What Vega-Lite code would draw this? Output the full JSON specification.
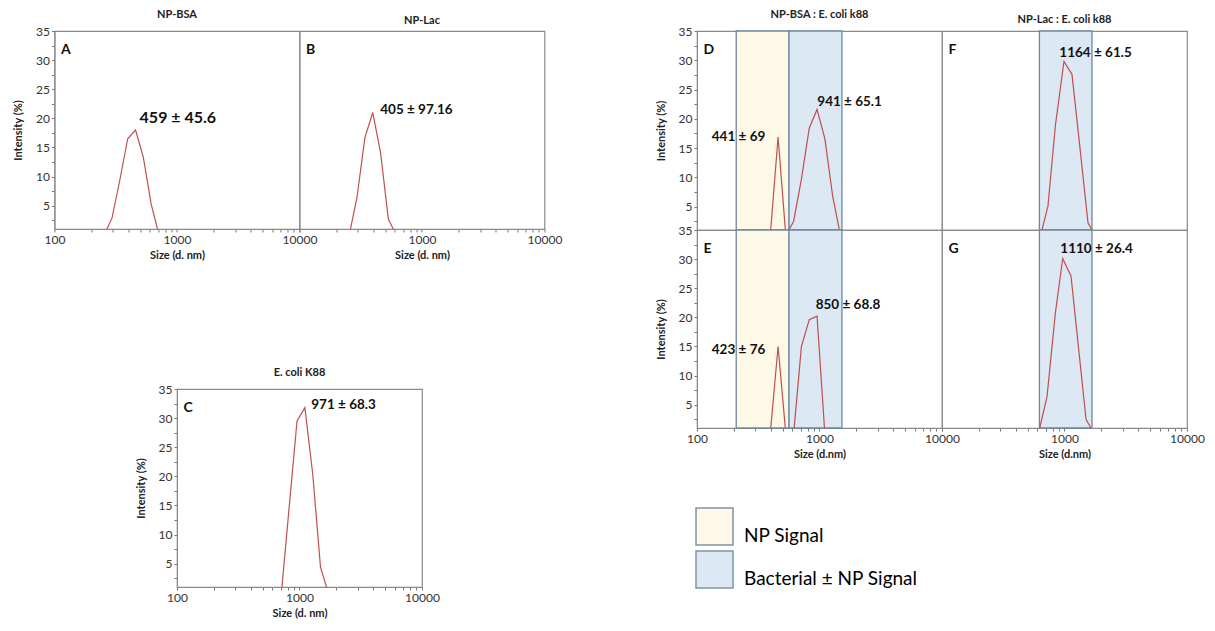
{
"$schema": "https://vega.github.io/schema/vega-lite/v6.json",
"background": "white",
"padding": {"left": 11, "top": 8, "right": 0, "bottom": 0},
"spacing": 91,
"config": {
  "font": "Lato",
  "view": {"stroke": "#8a8a8a", "strokeWidth": 1.2},
  "axis": {"labelFont": "Lato", "labelFontSize": 12, "labelColor": "#333", "titleFont": "Lato", "titleFontSize": 11, "titleFontWeight": "bold", "titleColor": "#222", "domainColor": "#888", "tickColor": "#777", "tickSize": 3, "grid": false, "labelFlush": false, "labelOverlap": false, "labelPadding": 2},
  "title": {"font": "Lato", "fontSize": 11, "fontWeight": "bold", "color": "#222", "offset": 5}
},
"datasets": {
  "curves": [
    {"panel": "A", "size": 255, "intensity": 0}, {"panel": "A", "size": 295, "intensity": 2.9}, {"panel": "A", "size": 342, "intensity": 9.5}, {"panel": "A", "size": 396, "intensity": 16.5}, {"panel": "A", "size": 459, "intensity": 18.0}, {"panel": "A", "size": 531, "intensity": 13.3}, {"panel": "A", "size": 615, "intensity": 5.3}, {"panel": "A", "size": 712, "intensity": 0},
    {"panel": "B", "size": 255, "intensity": 0}, {"panel": "B", "size": 295, "intensity": 6.5}, {"panel": "B", "size": 342, "intensity": 16.7}, {"panel": "B", "size": 396, "intensity": 21.0}, {"panel": "B", "size": 459, "intensity": 14.1}, {"panel": "B", "size": 531, "intensity": 2.7}, {"panel": "B", "size": 615, "intensity": 0},
    {"panel": "C", "size": 712, "intensity": 0}, {"panel": "C", "size": 825, "intensity": 14.9}, {"panel": "C", "size": 955, "intensity": 29.5}, {"panel": "C", "size": 1106, "intensity": 31.8}, {"panel": "C", "size": 1281, "intensity": 20.5}, {"panel": "C", "size": 1484, "intensity": 4.4}, {"panel": "C", "size": 1718, "intensity": 0},
    {"panel": "D", "size": 396, "intensity": 0}, {"panel": "D", "size": 459, "intensity": 16.9}, {"panel": "D", "size": 531, "intensity": 0}, {"panel": "D", "size": 615, "intensity": 2.5}, {"panel": "D", "size": 712, "intensity": 9.7}, {"panel": "D", "size": 825, "intensity": 18.4}, {"panel": "D", "size": 955, "intensity": 21.6}, {"panel": "D", "size": 1106, "intensity": 16.6}, {"panel": "D", "size": 1281, "intensity": 6.8}, {"panel": "D", "size": 1484, "intensity": 0},
    {"panel": "E", "size": 396, "intensity": 0}, {"panel": "E", "size": 459, "intensity": 15.0}, {"panel": "E", "size": 531, "intensity": 0}, {"panel": "E", "size": 615, "intensity": 0}, {"panel": "E", "size": 712, "intensity": 15.0}, {"panel": "E", "size": 825, "intensity": 19.6}, {"panel": "E", "size": 955, "intensity": 20.2}, {"panel": "E", "size": 1106, "intensity": 0},
    {"panel": "F", "size": 655, "intensity": 1}, {"panel": "F", "size": 733, "intensity": 5.1}, {"panel": "F", "size": 843, "intensity": 18.9}, {"panel": "F", "size": 990, "intensity": 29.8}, {"panel": "F", "size": 1151, "intensity": 27.6}, {"panel": "F", "size": 1349, "intensity": 14.3}, {"panel": "F", "size": 1556, "intensity": 2.2}, {"panel": "F", "size": 1676, "intensity": 1},
    {"panel": "G", "size": 628, "intensity": 1}, {"panel": "G", "size": 720, "intensity": 6.4}, {"panel": "G", "size": 843, "intensity": 20.8}, {"panel": "G", "size": 967, "intensity": 30.1}, {"panel": "G", "size": 1130, "intensity": 27.1}, {"panel": "G", "size": 1306, "intensity": 14.5}, {"panel": "G", "size": 1499, "intensity": 2.5}, {"panel": "G", "size": 1645, "intensity": 1}
  ],
  "bands": [
    {"panel": "D", "lo": 209, "hi": 564, "signal": "NP Signal"},
    {"panel": "D", "lo": 564, "hi": 1525, "signal": "Bacterial ± NP Signal"},
    {"panel": "E", "lo": 209, "hi": 564, "signal": "NP Signal"},
    {"panel": "E", "lo": 564, "hi": 1525, "signal": "Bacterial ± NP Signal"},
    {"panel": "F", "lo": 624, "hi": 1676, "signal": "Bacterial ± NP Signal"},
    {"panel": "G", "lo": 624, "hi": 1676, "signal": "Bacterial ± NP Signal"}
  ],
  "labels": [
    {"panel": "A", "size": 495, "intensity": 20.0, "text": "459 ± 45.6"},
    {"panel": "B", "size": 456, "intensity": 21.5, "text": "405 ± 97.16"},
    {"panel": "C", "size": 1248, "intensity": 32.3, "text": "971 ± 68.3"},
    {"panel": "D", "size": 132, "intensity": 16.9, "text": "441 ± 69"},
    {"panel": "D", "size": 960, "intensity": 22.9, "text": "941 ± 65.1"},
    {"panel": "E", "size": 132, "intensity": 14.4, "text": "423 ± 76"},
    {"panel": "E", "size": 931, "intensity": 22.2, "text": "850 ± 68.8"},
    {"panel": "F", "size": 908, "intensity": 31.3, "text": "1164 ± 61.5"},
    {"panel": "G", "size": 925, "intensity": 31.7, "text": "1110 ± 26.4"}
  ],
  "letters": [
    {"panel": "A", "size": 113, "intensity": 31.7, "text": "A"},
    {"panel": "B", "size": 113, "intensity": 31.7, "text": "B"},
    {"panel": "C", "size": 113, "intensity": 31.7, "text": "C"},
    {"panel": "D", "size": 113, "intensity": 31.7, "text": "D"},
    {"panel": "E", "size": 113, "intensity": 31.7, "text": "E"},
    {"panel": "F", "size": 113, "intensity": 31.7, "text": "F"},
    {"panel": "G", "size": 113, "intensity": 31.7, "text": "G"}
  ]
},
"hconcat": [
 {
  "center": true,
  "spacing": 105,
  "vconcat": [
   {
    "spacing": 0,
    "bounds": "flush",
    "hconcat": [
      {
        "width": 245, "height": 198,
        "title": "NP-BSA",
        "layer": [
          {"data": {"name": "curves"}, "transform": [{"filter": "datum.panel === 'A'"}],
           "mark": {"type": "line", "color": "#C0504D", "strokeWidth": 1.2, "clip": true},
           "encoding": {
             "x": {"field": "size", "type": "quantitative", "scale": {"type": "log", "domain": [100, 10000], "nice": false},
                   "axis": {"title": "Size (d. nm)", "titlePadding": 4, "tickCount": 100, "values": [100,200,300,400,500,600,700,800,900,1000,2000,3000,4000,5000,6000,7000,8000,9000,10000], "labelExpr": "indexof([100,1000,10000], datum.value) >= 0 ? format(datum.value, 'd') : ''"}},
             "y": {"field": "intensity", "type": "quantitative", "scale": {"domain": [1, 35], "nice": false, "zero": false},
                   "axis": {"title": "Intensity (%)", "titlePadding": 12, "tickCount": 100, "values": [2.5,5,7.5,10,12.5,15,17.5,20,22.5,25,27.5,30,32.5,35], "labelExpr": "datum.value % 5 === 0 ? format(datum.value, 'd') : ''"}}
           }},
          {"data": {"name": "labels"}, "transform": [{"filter": "datum.panel === 'A'"}],
           "mark": {"type": "text", "align": "left", "baseline": "middle", "fontWeight": "bold", "fontSize": 16, "color": "#111"},
           "encoding": {"x": {"field": "size", "type": "quantitative"}, "y": {"field": "intensity", "type": "quantitative"}, "text": {"field": "text"}}},
          {"data": {"name": "letters"}, "transform": [{"filter": "datum.panel === 'A'"}],
           "mark": {"type": "text", "align": "left", "baseline": "middle", "fontWeight": "bold", "fontSize": 14, "color": "#111"},
           "encoding": {"x": {"field": "size", "type": "quantitative"}, "y": {"field": "intensity", "type": "quantitative"}, "text": {"field": "text"}}}
        ]
      },
      {
        "width": 245, "height": 198,
        "title": "NP-Lac",
        "layer": [
          {"data": {"name": "curves"}, "transform": [{"filter": "datum.panel === 'B'"}],
           "mark": {"type": "line", "color": "#C0504D", "strokeWidth": 1.2, "clip": true},
           "encoding": {
             "x": {"field": "size", "type": "quantitative", "scale": {"type": "log", "domain": [100, 10000], "nice": false},
                   "axis": {"title": "Size (d. nm)", "titlePadding": 4, "tickCount": 100, "values": [100,200,300,400,500,600,700,800,900,1000,2000,3000,4000,5000,6000,7000,8000,9000,10000], "labelExpr": "indexof([1000,10000], datum.value) >= 0 ? format(datum.value, 'd') : ''"}},
             "y": {"field": "intensity", "type": "quantitative", "scale": {"domain": [1, 35], "nice": false, "zero": false}, "axis": null}
           }},
          {"data": {"name": "labels"}, "transform": [{"filter": "datum.panel === 'B'"}],
           "mark": {"type": "text", "align": "left", "baseline": "middle", "fontWeight": "bold", "fontSize": 13.5, "color": "#111"},
           "encoding": {"x": {"field": "size", "type": "quantitative"}, "y": {"field": "intensity", "type": "quantitative", "axis": null}, "text": {"field": "text"}}},
          {"data": {"name": "letters"}, "transform": [{"filter": "datum.panel === 'B'"}],
           "mark": {"type": "text", "align": "left", "baseline": "middle", "fontWeight": "bold", "fontSize": 14, "color": "#111"},
           "encoding": {"x": {"field": "size", "type": "quantitative"}, "y": {"field": "intensity", "type": "quantitative", "axis": null}, "text": {"field": "text"}}}
        ]
      }
    ]
   },
   {
    "width": 245, "height": 198,
    "title": "E. coli K88",
    "layer": [
      {"data": {"name": "curves"}, "transform": [{"filter": "datum.panel === 'C'"}],
       "mark": {"type": "line", "color": "#C0504D", "strokeWidth": 1.2, "clip": true},
       "encoding": {
         "x": {"field": "size", "type": "quantitative", "scale": {"type": "log", "domain": [100, 10000], "nice": false},
               "axis": {"title": "Size (d. nm)", "titlePadding": 4, "tickCount": 100, "values": [100,200,300,400,500,600,700,800,900,1000,2000,3000,4000,5000,6000,7000,8000,9000,10000], "labelExpr": "indexof([100,1000,10000], datum.value) >= 0 ? format(datum.value, 'd') : ''"}},
         "y": {"field": "intensity", "type": "quantitative", "scale": {"domain": [1, 35], "nice": false, "zero": false},
               "axis": {"title": "Intensity (%)", "titlePadding": 12, "tickCount": 100, "values": [2.5,5,7.5,10,12.5,15,17.5,20,22.5,25,27.5,30,32.5,35], "labelExpr": "datum.value % 5 === 0 ? format(datum.value, 'd') : ''"}}
       }},
      {"data": {"name": "labels"}, "transform": [{"filter": "datum.panel === 'C'"}],
       "mark": {"type": "text", "align": "left", "baseline": "middle", "fontWeight": "bold", "fontSize": 13.5, "color": "#111"},
       "encoding": {"x": {"field": "size", "type": "quantitative"}, "y": {"field": "intensity", "type": "quantitative"}, "text": {"field": "text"}}},
      {"data": {"name": "letters"}, "transform": [{"filter": "datum.panel === 'C'"}],
       "mark": {"type": "text", "align": "left", "baseline": "middle", "fontWeight": "bold", "fontSize": 14, "color": "#111"},
       "encoding": {"x": {"field": "size", "type": "quantitative"}, "y": {"field": "intensity", "type": "quantitative"}, "text": {"field": "text"}}}
    ]
   }
  ]
 },
 {
  "spacing": 199,
  "bounds": "flush",
  "vconcat": [
   {
    "spacing": 0,
    "bounds": "flush",
    "hconcat": [
      {
        "width": 245, "height": 199,
        "title": "NP-BSA : E. coli k88",
        "layer": [
          {"data": {"name": "bands"}, "transform": [{"filter": "datum.panel === 'D'"}],
           "mark": {"type": "rect", "stroke": "#6F87A0", "strokeWidth": 1.3},
           "encoding": {
             "x": {"field": "lo", "type": "quantitative", "scale": {"type": "log", "domain": [100, 10000], "nice": false}, "axis": null},
             "x2": {"field": "hi"},
             "y": {"datum": 35, "type": "quantitative"},
             "y2": {"datum": 1},
             "color": {"field": "signal", "type": "nominal", "scale": {"domain": ["NP Signal", "Bacterial ± NP Signal"], "range": ["#FEF8E7", "#DCE8F4"]},
                       "legend": {"orient": "none", "legendX": 641, "legendY": 476, "title": null, "padding": 0, "symbolType": "square", "symbolSize": 1369, "symbolStrokeColor": "#7F93A8", "symbolStrokeWidth": 1.5, "symbolOpacity": 1, "labelFont": "Lato", "labelFontSize": 19, "labelColor": "#000", "labelOffset": 10, "labelBaseline": "top", "rowPadding": 0, "labelLimit": 400}}
           }},
          {"data": {"name": "curves"}, "transform": [{"filter": "datum.panel === 'D'"}],
           "mark": {"type": "line", "color": "#C0504D", "strokeWidth": 1.2, "clip": true},
           "encoding": {
             "x": {"field": "size", "type": "quantitative", "scale": {"type": "log", "domain": [100, 10000], "nice": false}, "axis": null},
             "y": {"field": "intensity", "type": "quantitative", "scale": {"domain": [1, 35], "nice": false, "zero": false},
                   "axis": {"title": "Intensity (%)", "titlePadding": 12, "tickCount": 100, "values": [2.5,5,7.5,10,12.5,15,17.5,20,22.5,25,27.5,30,32.5,35], "labelExpr": "datum.value % 5 === 0 ? format(datum.value, 'd') : ''"}}
           }},
          {"data": {"name": "labels"}, "transform": [{"filter": "datum.panel === 'D'"}],
           "mark": {"type": "text", "align": "left", "baseline": "middle", "fontWeight": "bold", "fontSize": 13.5, "color": "#111"},
           "encoding": {"x": {"field": "size", "type": "quantitative", "axis": null}, "y": {"field": "intensity", "type": "quantitative"}, "text": {"field": "text"}}},
          {"data": {"name": "letters"}, "transform": [{"filter": "datum.panel === 'D'"}],
           "mark": {"type": "text", "align": "left", "baseline": "middle", "fontWeight": "bold", "fontSize": 14, "color": "#111"},
           "encoding": {"x": {"field": "size", "type": "quantitative", "axis": null}, "y": {"field": "intensity", "type": "quantitative"}, "text": {"field": "text"}}}
        ]
      },
      {
        "width": 245, "height": 199,
        "title": "NP-Lac : E. coli k88",
        "layer": [
          {"data": {"name": "bands"}, "transform": [{"filter": "datum.panel === 'F'"}],
           "mark": {"type": "rect", "stroke": "#6F87A0", "strokeWidth": 1.3},
           "encoding": {
             "x": {"field": "lo", "type": "quantitative", "scale": {"type": "log", "domain": [100, 10000], "nice": false}, "axis": null},
             "x2": {"field": "hi"},
             "y": {"datum": 35, "type": "quantitative", "axis": null},
             "y2": {"datum": 1},
             "color": {"field": "signal", "type": "nominal", "scale": {"domain": ["NP Signal", "Bacterial ± NP Signal"], "range": ["#FEF8E7", "#DCE8F4"]}, "legend": null}
           }},
          {"data": {"name": "curves"}, "transform": [{"filter": "datum.panel === 'F'"}],
           "mark": {"type": "line", "color": "#C0504D", "strokeWidth": 1.2, "clip": true},
           "encoding": {
             "x": {"field": "size", "type": "quantitative", "scale": {"type": "log", "domain": [100, 10000], "nice": false}, "axis": null},
             "y": {"field": "intensity", "type": "quantitative", "scale": {"domain": [1, 35], "nice": false, "zero": false}, "axis": null}
           }},
          {"data": {"name": "labels"}, "transform": [{"filter": "datum.panel === 'F'"}],
           "mark": {"type": "text", "align": "left", "baseline": "middle", "fontWeight": "bold", "fontSize": 13.5, "color": "#111"},
           "encoding": {"x": {"field": "size", "type": "quantitative", "axis": null}, "y": {"field": "intensity", "type": "quantitative", "axis": null}, "text": {"field": "text"}}},
          {"data": {"name": "letters"}, "transform": [{"filter": "datum.panel === 'F'"}],
           "mark": {"type": "text", "align": "left", "baseline": "middle", "fontWeight": "bold", "fontSize": 14, "color": "#111"},
           "encoding": {"x": {"field": "size", "type": "quantitative", "axis": null}, "y": {"field": "intensity", "type": "quantitative", "axis": null}, "text": {"field": "text"}}}
        ]
      }
    ]
   },
   {
    "spacing": 0,
    "bounds": "flush",
    "hconcat": [
      {
        "width": 245, "height": 198,
        "layer": [
          {"data": {"name": "bands"}, "transform": [{"filter": "datum.panel === 'E'"}],
           "mark": {"type": "rect", "stroke": "#6F87A0", "strokeWidth": 1.3},
           "encoding": {
             "x": {"field": "lo", "type": "quantitative", "scale": {"type": "log", "domain": [100, 10000], "nice": false}},
             "x2": {"field": "hi"},
             "y": {"datum": 35, "type": "quantitative"},
             "y2": {"datum": 1},
             "color": {"field": "signal", "type": "nominal", "scale": {"domain": ["NP Signal", "Bacterial ± NP Signal"], "range": ["#FEF8E7", "#DCE8F4"]}, "legend": null}
           }},
          {"data": {"name": "curves"}, "transform": [{"filter": "datum.panel === 'E'"}],
           "mark": {"type": "line", "color": "#C0504D", "strokeWidth": 1.2, "clip": true},
           "encoding": {
             "x": {"field": "size", "type": "quantitative", "scale": {"type": "log", "domain": [100, 10000], "nice": false},
                   "axis": {"title": "Size (d.nm)", "titlePadding": 4, "tickCount": 100, "values": [100,200,300,400,500,600,700,800,900,1000,2000,3000,4000,5000,6000,7000,8000,9000,10000], "labelExpr": "indexof([100,1000,10000], datum.value) >= 0 ? format(datum.value, 'd') : ''"}},
             "y": {"field": "intensity", "type": "quantitative", "scale": {"domain": [1, 35], "nice": false, "zero": false},
                   "axis": {"title": "Intensity (%)", "titlePadding": 12, "tickCount": 100, "values": [2.5,5,7.5,10,12.5,15,17.5,20,22.5,25,27.5,30,32.5,35], "labelExpr": "datum.value % 5 === 0 ? format(datum.value, 'd') : ''"}}
           }},
          {"data": {"name": "labels"}, "transform": [{"filter": "datum.panel === 'E'"}],
           "mark": {"type": "text", "align": "left", "baseline": "middle", "fontWeight": "bold", "fontSize": 13.5, "color": "#111"},
           "encoding": {"x": {"field": "size", "type": "quantitative"}, "y": {"field": "intensity", "type": "quantitative"}, "text": {"field": "text"}}},
          {"data": {"name": "letters"}, "transform": [{"filter": "datum.panel === 'E'"}],
           "mark": {"type": "text", "align": "left", "baseline": "middle", "fontWeight": "bold", "fontSize": 14, "color": "#111"},
           "encoding": {"x": {"field": "size", "type": "quantitative"}, "y": {"field": "intensity", "type": "quantitative"}, "text": {"field": "text"}}}
        ]
      },
      {
        "width": 245, "height": 198,
        "layer": [
          {"data": {"name": "bands"}, "transform": [{"filter": "datum.panel === 'G'"}],
           "mark": {"type": "rect", "stroke": "#6F87A0", "strokeWidth": 1.3},
           "encoding": {
             "x": {"field": "lo", "type": "quantitative", "scale": {"type": "log", "domain": [100, 10000], "nice": false}},
             "x2": {"field": "hi"},
             "y": {"datum": 35, "type": "quantitative", "axis": null},
             "y2": {"datum": 1},
             "color": {"field": "signal", "type": "nominal", "scale": {"domain": ["NP Signal", "Bacterial ± NP Signal"], "range": ["#FEF8E7", "#DCE8F4"]}, "legend": null}
           }},
          {"data": {"name": "curves"}, "transform": [{"filter": "datum.panel === 'G'"}],
           "mark": {"type": "line", "color": "#C0504D", "strokeWidth": 1.2, "clip": true},
           "encoding": {
             "x": {"field": "size", "type": "quantitative", "scale": {"type": "log", "domain": [100, 10000], "nice": false},
                   "axis": {"title": "Size (d.nm)", "titlePadding": 4, "tickCount": 100, "values": [100,200,300,400,500,600,700,800,900,1000,2000,3000,4000,5000,6000,7000,8000,9000,10000], "labelExpr": "indexof([1000,10000], datum.value) >= 0 ? format(datum.value, 'd') : ''"}},
             "y": {"field": "intensity", "type": "quantitative", "scale": {"domain": [1, 35], "nice": false, "zero": false}, "axis": null}
           }},
          {"data": {"name": "labels"}, "transform": [{"filter": "datum.panel === 'G'"}],
           "mark": {"type": "text", "align": "left", "baseline": "middle", "fontWeight": "bold", "fontSize": 13.5, "color": "#111"},
           "encoding": {"x": {"field": "size", "type": "quantitative"}, "y": {"field": "intensity", "type": "quantitative", "axis": null}, "text": {"field": "text"}}},
          {"data": {"name": "letters"}, "transform": [{"filter": "datum.panel === 'G'"}],
           "mark": {"type": "text", "align": "left", "baseline": "middle", "fontWeight": "bold", "fontSize": 14, "color": "#111"},
           "encoding": {"x": {"field": "size", "type": "quantitative"}, "y": {"field": "intensity", "type": "quantitative", "axis": null}, "text": {"field": "text"}}}
        ]
      }
    ]
   }
  ]
 }
]
}
